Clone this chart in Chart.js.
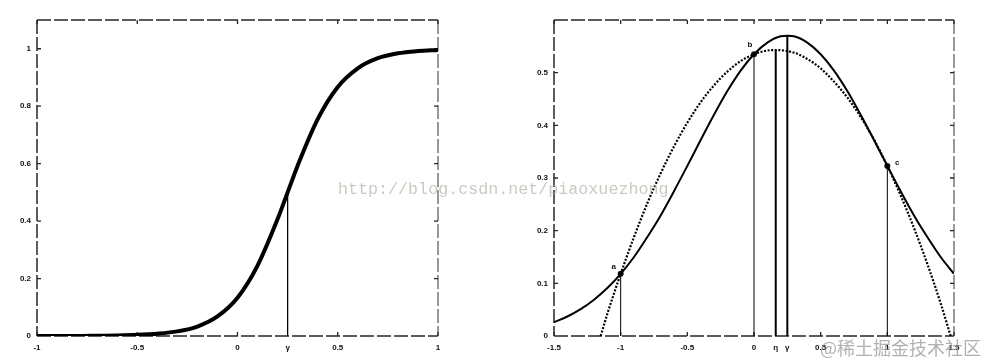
<!DOCTYPE html>
<html>
<head>
<meta charset="utf-8">
<script src="https://cdn.jsdelivr.net/npm/chart.js@4.4.1/dist/chart.umd.min.js"></script>
<style>
html,body{margin:0;padding:0;background:#fff;}
#wrap{position:relative;width:986px;height:364px;overflow:hidden;background:#fff;}
canvas{position:absolute;top:0;}
#c1{left:0;}
#c2{left:493px;}
.wm1{position:absolute;left:338px;top:180px;font:16.7px/20px "Liberation Mono",monospace;color:rgba(180,180,170,0.7);white-space:nowrap;}
.wm2{position:absolute;left:820px;top:335px;font:18px/24px "Noto Sans CJK SC",sans-serif;color:rgba(150,150,150,0.75);white-space:nowrap;}
</style>
</head>
<body>
<div id="wrap">
<canvas id="c1" width="493" height="364"></canvas>
<canvas id="c2" width="493" height="364"></canvas>
<div class="wm1">http://blog.csdn.net/piaoxuezhong</div>
<div class="wm2">@稀土掘金技术社区</div>
</div>
<script>
// ---------- Left chart data ----------
const sigmoidX = [-1,-0.9,-0.8,-0.7,-0.6,-0.5,-0.4,-0.3,-0.2,-0.1,0,0.1,0.2,0.25,0.3,0.4,0.5,0.6,0.7,0.8,0.9,1];
const sigmoidY = [0,0,0,0.001,0.002,0.004,0.008,0.016,0.033,0.068,0.133,0.245,0.407,0.5,0.593,0.755,0.867,0.932,0.967,0.984,0.992,0.996];
const leftMarkX = [0.25];
const leftMarkY = [0.5];
const leftXTicks = [-1,-0.5,0,0.5,1];
const leftXTickLabels = ['-1','-0.5','0','0.5','1'];
const leftSymX = [0.25];
const leftSymLabels = ['γ'];
const leftYTicks = [0,0.2,0.4,0.6,0.8,1];
const leftYTickLabels = ['0','0.2','0.4','0.6','0.8','1'];

// ---------- Right chart data ----------
const curveX = [-1.5,-1.4,-1.3,-1.2,-1.1,-1,-0.9,-0.8,-0.7,-0.6,-0.5,-0.4,-0.3,-0.2,-0.1,0,0.1,0.2,0.25,0.3,0.4,0.5,0.6,0.7,0.8,0.9,1,1.1,1.2,1.3,1.4,1.5];
const curveY = [0.026,0.037,0.051,0.069,0.091,0.118,0.150,0.188,0.229,0.275,0.323,0.372,0.420,0.465,0.504,0.535,0.557,0.569,0.570,0.569,0.557,0.535,0.504,0.465,0.420,0.372,0.323,0.275,0.229,0.188,0.150,0.118];
const parabX = [-1.15,-1.1,-1,-0.9,-0.8,-0.7,-0.6,-0.5,-0.4,-0.3,-0.2,-0.1,0,0.1,0.163,0.3,0.4,0.5,0.6,0.7,0.8,0.9,1,1.1,1.2,1.3,1.4,1.475];
const parabY = [0,0.042,0.118,0.188,0.252,0.309,0.360,0.405,0.444,0.476,0.502,0.522,0.535,0.542,0.543,0.538,0.526,0.508,0.483,0.453,0.416,0.373,0.323,0.267,0.205,0.137,0.062,0];
const pointX = [-1,0,1];
const pointY = [0.118,0.535,0.323];
const pointLabels = ['a','b','c'];
const peakX = [0.163,0.25];      // η, γ
const peakY = [0.543,0.570];
const rightXTicks = [-1.5,-1,-0.5,0,0.5,1,1.5];
const rightXTickLabels = ['-1.5','-1','-0.5','0','0.5','1','1.5'];
const rightSymX = [0.163,0.25];
const rightSymLabels = ['η','γ'];
const rightYTicks = [0,0.1,0.2,0.3,0.4,0.5];
const rightYTickLabels = ['0','0.1','0.2','0.3','0.4','0.5'];
const rightFrameYTicks = [0.1,0.2,0.3,0.4,0.5];

// ---------- helpers ----------
const FONT = {family:'"Liberation Sans", Arial, sans-serif', size:8, weight:'bold'};
function pts(xs, ys){ return xs.map((x,i)=>({x:x, y:ys[i]})); }
function mergeTicks(nx, nl, sx, sl){
  const arr = nx.map((v,i)=>({v:v,l:nl[i]})).concat(sx.map((v,i)=>({v:v,l:sl[i]})));
  arr.sort((a,b)=>a.v-b.v);
  return {vals:arr.map(a=>a.v), labels:arr.map(a=>a.l)};
}

const framePlugin = {
  id:'frame',
  beforeDatasetsDraw(chart, args, opts){
    const ctx = chart.ctx;
    const {left,right,top,bottom} = chart.chartArea;
    const xs = chart.scales.x, ys = chart.scales.y;
    ctx.save();
    ctx.lineWidth = 1.5;
    ctx.setLineDash([14,3]);
    ctx.strokeStyle = '#262626';
    ctx.beginPath();
    ctx.moveTo(left,top); ctx.lineTo(right,top);
    ctx.moveTo(left,bottom); ctx.lineTo(right,bottom);
    ctx.moveTo(left,top); ctx.lineTo(left,bottom);
    ctx.stroke();
    ctx.strokeStyle = '#777';
    ctx.beginPath();
    ctx.moveTo(right,top); ctx.lineTo(right,bottom);
    ctx.stroke();
    ctx.setLineDash([]);
    ctx.strokeStyle = '#262626';
    ctx.lineWidth = 1.3;
    ctx.beginPath();
    opts.xTicks.forEach(v=>{
      const p = xs.getPixelForValue(v);
      ctx.moveTo(p,bottom); ctx.lineTo(p,bottom-4);
      ctx.moveTo(p,top); ctx.lineTo(p,top+4);
    });
    opts.yTicks.forEach(v=>{
      const p = ys.getPixelForValue(v);
      ctx.moveTo(left,p); ctx.lineTo(left+4,p);
      ctx.moveTo(right,p); ctx.lineTo(right-4,p);
    });
    ctx.stroke();
    ctx.restore();
  },
  afterDatasetsDraw(chart, args, opts){
    if(!opts.labels) return;
    const ctx = chart.ctx;
    const xs = chart.scales.x, ys = chart.scales.y;
    ctx.save();
    ctx.fillStyle = '#111';
    ctx.font = 'bold 8px "Liberation Sans", Arial, sans-serif';
    ctx.textAlign = 'center';
    ctx.textBaseline = 'middle';
    opts.labels.forEach(l=>{
      const px = xs.getPixelForValue(l.x), py = ys.getPixelForValue(l.y);
      ctx.fillText(l.text, px + l.dx, py + l.dy);
    });
    ctx.restore();
  }
};

function makeOptions(cfg){
  const xt = mergeTicks(cfg.xTicks, cfg.xLabels, cfg.symX, cfg.symLabels);
  return {
    responsive:false,
    animation:false,
    devicePixelRatio:1,
    layout:{padding:{left:0,right:cfg.padRight,top:20,bottom:0}},
    plugins:{
      legend:{display:false},
      tooltip:{enabled:false},
      frame:{xTicks:cfg.xTicks, yTicks:cfg.frameYTicks, labels:cfg.pointLabels}
    },
    elements:{point:{radius:0}},
    scales:{
      x:{
        type:'linear', min:cfg.xMin, max:cfg.xMax,
        afterFit(s){ s.height = 28; },
        afterBuildTicks(s){ s.ticks = xt.vals.map(v=>({value:v})); },
        grid:{display:false, drawTicks:false},
        border:{display:false},
        ticks:{padding:7, font:FONT, color:'#111', autoSkip:false, maxRotation:0, minRotation:0,
          callback:(v,i)=>xt.labels[i]}
      },
      y:{
        type:'linear', min:0, max:cfg.yMax,
        afterFit(s){ s.width = cfg.yWidth; },
        afterBuildTicks(s){ s.ticks = cfg.yTicks.map(v=>({value:v})); },
        grid:{display:false, drawTicks:false},
        border:{display:false},
        ticks:{padding:6, font:FONT, color:'#111', autoSkip:false,
          callback:(v,i)=>cfg.yLabels[i]}
      }
    }
  };
}

// ---------- Left chart ----------
new Chart(document.getElementById('c1'), {
  type:'scatter',
  data:{datasets:[
    {data:pts(sigmoidX, sigmoidY), showLine:true, borderColor:'#000', borderWidth:4, cubicInterpolationMode:'monotone', pointRadius:0},
    {data:[{x:leftMarkX[0],y:0},{x:leftMarkX[0],y:leftMarkY[0]}], showLine:true, borderColor:'#000', borderWidth:1.3, pointRadius:0}
  ]},
  options:makeOptions({
    xMin:-1, xMax:1, yMax:1.1, padRight:55, yWidth:37,
    xTicks:leftXTicks, xLabels:leftXTickLabels, symX:leftSymX, symLabels:leftSymLabels,
    yTicks:leftYTicks, yLabels:leftYTickLabels, frameYTicks:leftYTicks.slice(1)
  }),
  plugins:[framePlugin]
});

// ---------- Right chart ----------
const rightSets = [
  {data:pts(curveX, curveY), showLine:true, borderColor:'#000', borderWidth:2, cubicInterpolationMode:'monotone', pointRadius:0},
  {data:pts(parabX, parabY), showLine:true, borderColor:'#000', borderWidth:2.2, borderDash:[2,1.6], cubicInterpolationMode:'monotone', pointRadius:0}
];
pointX.forEach((x,i)=>{
  rightSets.push({data:[{x:x,y:0},{x:x,y:pointY[i]}], showLine:true, borderColor:'#000', borderWidth:1, pointRadius:0});
});
peakX.forEach((x,i)=>{
  rightSets.push({data:[{x:x,y:0},{x:x,y:peakY[i]}], showLine:true, borderColor:'#000', borderWidth:2, pointRadius:0});
});
rightSets.push({data:pts(pointX, pointY), showLine:false, pointRadius:3, pointBackgroundColor:'#111', pointBorderColor:'#111', pointBorderWidth:0});

const labelOffsets = [[-7,-7],[-4,-9],[10,-3]];
new Chart(document.getElementById('c2'), {
  type:'scatter',
  data:{datasets:rightSets},
  options:makeOptions({
    xMin:-1.5, xMax:1.5, yMax:0.6, padRight:32, yWidth:61,
    xTicks:rightXTicks, xLabels:rightXTickLabels, symX:rightSymX, symLabels:rightSymLabels,
    yTicks:rightYTicks, yLabels:rightYTickLabels, frameYTicks:rightFrameYTicks,
    pointLabels:pointX.map((x,i)=>({x:x, y:pointY[i], text:pointLabels[i], dx:labelOffsets[i][0], dy:labelOffsets[i][1]}))
  }),
  plugins:[framePlugin]
});
</script>
</body>
</html>
